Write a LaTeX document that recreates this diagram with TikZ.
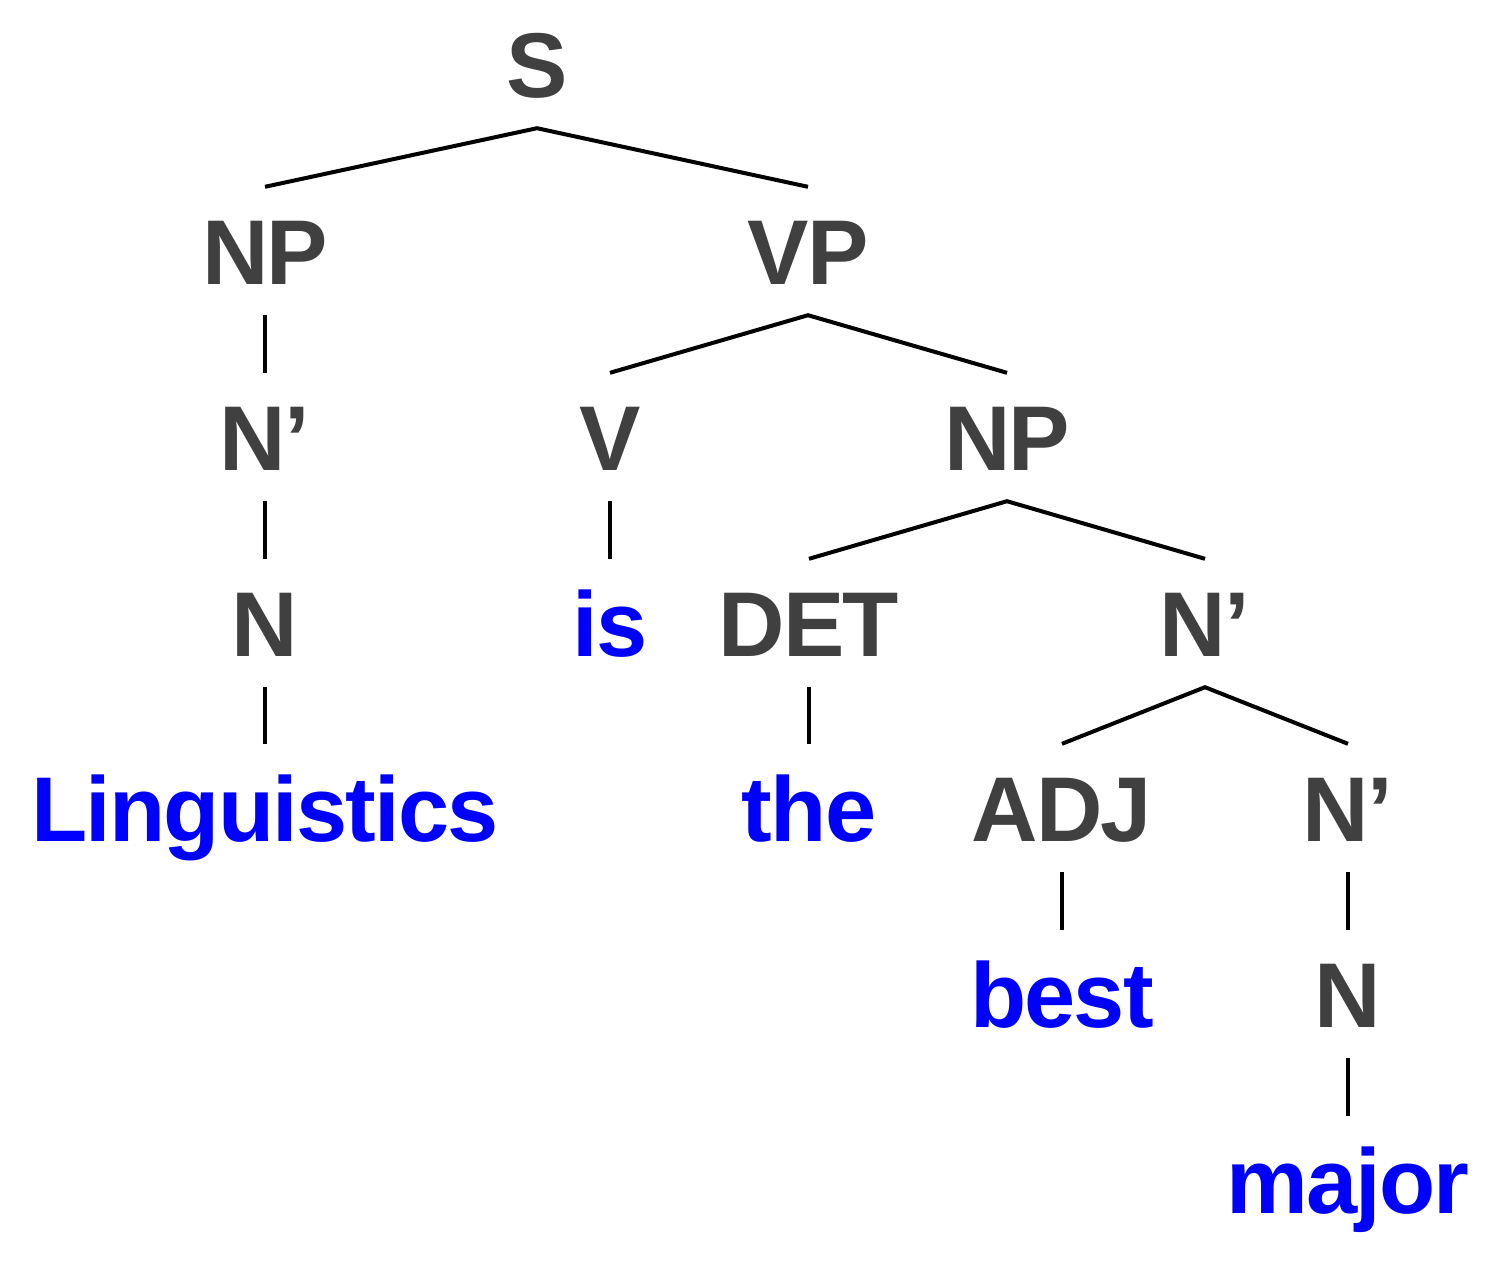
\documentclass[tikz,border=0pt]{standalone}
\usepackage{fontspec}
\setmainfont{Liberation Sans}[LetterSpace=-2]
\definecolor{labgrey}{HTML}{404040}
\definecolor{wordblue}{HTML}{0000FF}
\begin{document}
\begin{tikzpicture}[x=1pt,y=-1pt,
  cat/.style={anchor=base,inner xsep=0pt,inner ysep=31pt,text height=66pt,text depth=0pt,
    font=\fontsize{92}{92}\selectfont\bfseries,text=labgrey},
  word/.style={cat,text=wordblue},
  branch/.style={line width=4pt,black}]
\useasboundingbox (0,0) rectangle (1500,1262);
\node[cat]  (S)    at (537,97)   {S};
\node[cat]  (NP)   at (265,284)  {NP};
\node[cat]  (VP)   at (808,284)  {VP};
\node[cat]  (Nb1)  at (265,470)  {N’};
\node[cat]  (V)    at (610,470)  {V};
\node[cat]  (NP2)  at (1007,470) {NP};
\node[cat]  (N1)   at (265,656)  {N};
\node[word] (is)   at (610,656)  {is};
\node[cat]  (DET)  at (809,656)  {DET};
\node[cat]  (Nb2)  at (1205,656) {N’};
\node[word] (ling) at (265,841)  {Linguistics};
\node[word] (the)  at (809,841)  {the};
\node[cat]  (ADJ)  at (1062,841) {ADJ};
\node[cat]  (Nb3)  at (1348,841) {N’};
\node[word] (best) at (1062,1027) {best};
\node[cat]  (N2)   at (1348,1027) {N};
\node[word] (major) at (1348,1213) {major};
\draw[branch] (NP.north) -- (S.south) -- (VP.north);
\draw[branch] (NP.south) -- (Nb1.north);
\draw[branch] (V.north) -- (VP.south) -- (NP2.north);
\draw[branch] (Nb1.south) -- (N1.north);
\draw[branch] (V.south) -- (is.north);
\draw[branch] (DET.north) -- (NP2.south) -- (Nb2.north);
\draw[branch] (N1.south) -- (ling.north);
\draw[branch] (DET.south) -- (the.north);
\draw[branch] (ADJ.north) -- (Nb2.south) -- (Nb3.north);
\draw[branch] (ADJ.south) -- (best.north);
\draw[branch] (Nb3.south) -- (N2.north);
\draw[branch] (N2.south) -- (major.north);
\end{tikzpicture}
\end{document}
